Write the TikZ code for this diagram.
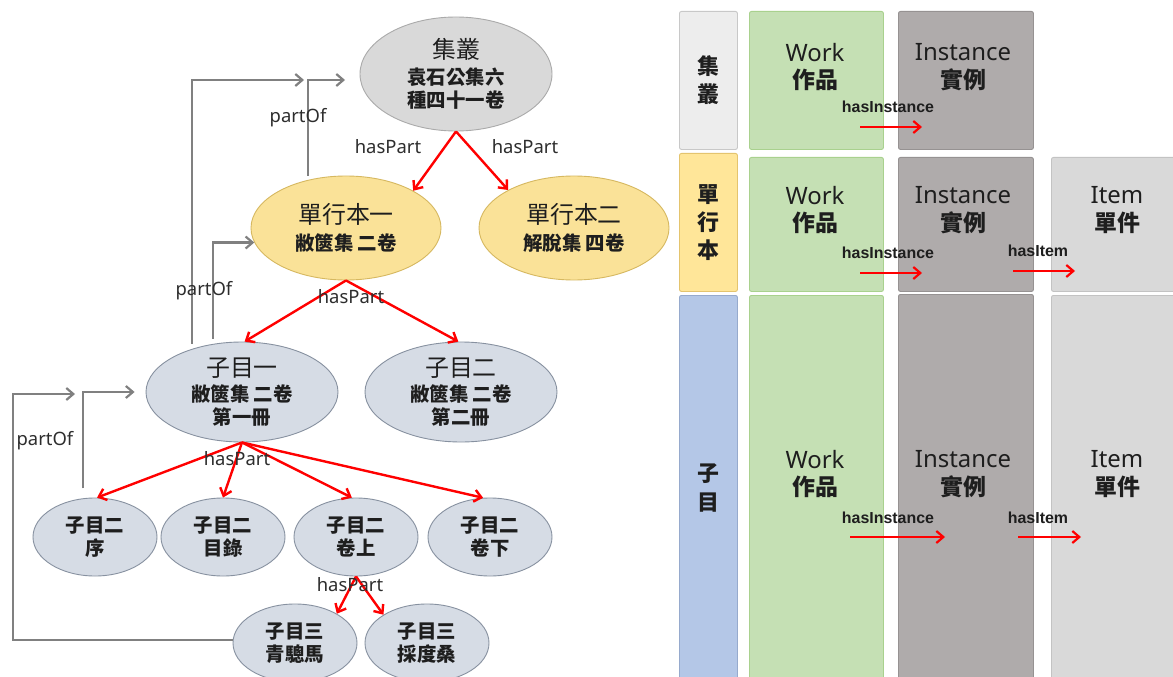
\documentclass[tikz,border=0pt]{standalone}
\usepackage{fontspec}
\setmainfont{Noto Sans CJK TC}
\newfontfamily\latinsans{Noto Sans}
\newfontfamily\latinheavy{Liberation Sans}
\usetikzlibrary{arrows.meta,shapes.geometric}

% palette
\definecolor{txt}{RGB}{30,30,30}
\definecolor{labtxt}{RGB}{45,45,45}
\definecolor{jcfill}{RGB}{217,217,217}
\definecolor{jcdraw}{RGB}{170,170,170}
\definecolor{dxfill}{RGB}{250,226,152}
\definecolor{dxdraw}{RGB}{214,184,96}
\definecolor{zmfill}{RGB}{214,220,229}
\definecolor{zmdraw}{RGB}{135,145,160}
\definecolor{linkgray}{RGB}{128,128,128}
\definecolor{hpred}{RGB}{255,0,0}
\definecolor{rowafill}{RGB}{237,237,237}
\definecolor{rowadraw}{RGB}{200,200,200}
\definecolor{rowbfill}{RGB}{255,230,153}
\definecolor{rowbdraw}{RGB}{228,196,110}
\definecolor{rowcfill}{RGB}{180,199,231}
\definecolor{rowcdraw}{RGB}{150,170,205}
\definecolor{workfill}{RGB}{197,224,180}
\definecolor{workdraw}{RGB}{169,209,142}
\definecolor{instfill}{RGB}{175,171,171}
\definecolor{instdraw}{RGB}{150,146,146}
\definecolor{itemfill}{RGB}{217,217,217}
\definecolor{itemdraw}{RGB}{195,195,195}

\newcommand\titlecjk{\mdseries\fontsize{24}{28}\selectfont}
\newcommand\subcjk{\bfseries\fontsize{19.5}{23}\selectfont}
\newcommand\relfont{\latinsans\fontsize{18.5}{20}\selectfont}
\newcommand\headlatin{\latinsans\mdseries\fontsize{24}{28}\selectfont}
\newcommand\headcjk{\bfseries\fontsize{23}{28}\selectfont}
\newcommand\propfont{\latinheavy\bfseries\fontsize{16}{18}\selectfont}

\begin{document}
\begin{tikzpicture}[x=1bp,y=-1bp,
  bub/.style={ellipse, draw, line width=0.9bp, inner sep=0pt, align=center, text=txt},
  jcnode/.style={bub, fill=jcfill, draw=jcdraw, minimum width=192bp, minimum height=114bp},
  dxnode/.style={bub, fill=dxfill, draw=dxdraw, minimum width=190bp, minimum height=104bp},
  zmbig/.style={bub, fill=zmfill, draw=zmdraw, minimum width=192bp, minimum height=100bp},
  zmsmall/.style={bub, fill=zmfill, draw=zmdraw, minimum width=124bp, minimum height=78bp, font=\subcjk},
  haspart/.style={draw=hpred, line width=2.4bp, -{Straight Barb[length=7bp,width=12bp]}},
  partof/.style={draw=linkgray, line width=2.2bp, -{Straight Barb[length=7bp,width=12bp]}},
  propline/.style={draw=hpred, line width=2.2bp, -{Straight Barb[length=7bp,width=12bp]}},
  rellabel/.style={font=\relfont, text=labtxt, inner sep=0pt},
  proplabel/.style={font=\propfont, text=txt, inner sep=0pt},
  colbox/.style={draw, line width=0.9bp, rounded corners=2bp, anchor=north west, inner sep=0pt, align=center, text=txt},
  headtext/.style={align=center, text=txt, inner sep=0pt, font=\headcjk}]

\useasboundingbox (0,0) rectangle (1173,677);
\clip (0,0) rectangle (1173,677);
\fill[white] (0,0) rectangle (1173,677);

% ---------- hierarchy of the collection ----------
\node[jcnode, font=\subcjk] (jc) at (456,74) {{\titlecjk 集叢}\\[3bp]袁石公集六\\種四十一卷};
\node[dxnode, font=\subcjk] (d1) at (346,228) {{\titlecjk 單行本一}\\[4bp]敝篋集 二卷};
\node[dxnode, font=\subcjk] (d2) at (574,228) {{\titlecjk 單行本二}\\[4bp]解脫集 四卷};
\node[zmbig, font=\subcjk] (z1) at (242,392) {{\titlecjk 子目一}\\[2bp]敝篋集 二卷\\第一冊};
\node[zmbig, font=\subcjk] (z2) at (461,392) {{\titlecjk 子目二}\\[2bp]敝篋集 二卷\\第二冊};
\node[zmsmall] (s1) at (95,537) {子目二\\序};
\node[zmsmall] (s2) at (223,537) {子目二\\目錄};
\node[zmsmall] (s3) at (356,537) {子目二\\卷上};
\node[zmsmall] (s4) at (490,537) {子目二\\卷下};
\node[zmsmall] (t1) at (295,643) {子目三\\青驄馬};
\node[zmsmall] (t2) at (427,643) {子目三\\採度桑};

% hasPart links
\draw[haspart] (jc.south) -- (d1.29);
\draw[haspart] (jc.south) -- (d2.150);
\draw[haspart] (d1.south) -- (z1.87);
\draw[haspart] (d1.south) -- (z2.93);
\draw[haspart] (z1.south) -- (s1.87);
\draw[haspart] (z1.south) -- (s2.north);
\draw[haspart] (z1.south) -- (s3.96);
\draw[haspart] (z1.south) -- (s4.100);
\draw[haspart] (s3.south) -- (t1.35);
\draw[haspart] (s3.south) -- (t2.147);

% partOf links
\coordinate (aEnd) at (304,80);
\coordinate (bEnd) at (345,80);
\coordinate (eTurn) at (13,394);
\coordinate (eEnd) at (75,394);
\draw[partof, shorten <=5bp] (z1.139) |- (aEnd);
\draw[partof, shorten <=4bp] (d1.128) |- (bEnd);
\draw[partof, shorten <=5bp] (z1.121) |- (d1.189);
\draw[partof, shorten <=10bp, shorten >=11bp] (s1.107) |- (z1.west);
\draw[partof] (t1.177) -| (eTurn) -- (eEnd);

% relation labels
\node[rellabel] (lp1) at (388,147) {hasPart};
\node[rellabel] (lp2) at (525,147) {hasPart};
\node[rellabel] (lp3) at (351,297) {hasPart};
\node[rellabel] (lp4) at (237,459) {hasPart};
\node[rellabel] (lp5) at (350,585) {hasPart};
\node[rellabel] (lo1) at (298,118) {partOf};
\node[rellabel] (lo2) at (204,291) {partOf};
\node[rellabel] (lo3) at (45,441) {partOf};

% ---------- level / entity table ----------
\node[colbox, fill=rowafill, draw=rowadraw, minimum width=58bp, minimum height=138bp, font=\bfseries\fontsize{22}{28}\selectfont] (ra) at (679,11) {集\\叢};
\node[colbox, fill=rowbfill, draw=rowbdraw, minimum width=58bp, minimum height=138bp, font=\bfseries\fontsize{22}{28}\selectfont] (rb) at (679,153) {單\\行\\本};
\node[colbox, fill=rowcfill, draw=rowcdraw, minimum width=58bp, minimum height=385bp, font=\bfseries\fontsize{22}{30}\selectfont] (rc) at (679,295) {子\\目};

\node[colbox, fill=workfill, draw=workdraw, minimum width=134bp, minimum height=138bp] (wa) at (749,11) {};
\node[colbox, fill=workfill, draw=workdraw, minimum width=134bp, minimum height=134bp] (wb) at (749,157) {};
\node[colbox, fill=workfill, draw=workdraw, minimum width=134bp, minimum height=385bp] (wc) at (749,295) {};
\node[colbox, fill=instfill, draw=instdraw, minimum width=135bp, minimum height=138bp] (ia) at (898,11) {};
\node[colbox, fill=instfill, draw=instdraw, minimum width=135bp, minimum height=134bp] (ib) at (898,157) {};
\node[colbox, fill=instfill, draw=instdraw, minimum width=135bp, minimum height=386bp] (ic) at (898,294) {};
\node[colbox, fill=itemfill, draw=itemdraw, minimum width=140bp, minimum height=134bp] (mb) at (1051,157) {};
\node[colbox, fill=itemfill, draw=itemdraw, minimum width=140bp, minimum height=385bp] (mc) at (1051,295) {};

\node[headtext] (hwa) at (815,67) {{\headlatin Work}\\{\headcjk 作品}};
\node[headtext] (hia) at (963,67) {{\headlatin Instance}\\{\headcjk 實例}};
\node[headtext] (hwb) at (815,210) {{\headlatin Work}\\{\headcjk 作品}};
\node[headtext] (hib) at (963,210) {{\headlatin Instance}\\{\headcjk 實例}};
\node[headtext] (hmb) at (1117,210) {{\headlatin Item}\\{\headcjk 單件}};
\node[headtext] (hwc) at (815,474) {{\headlatin Work}\\{\headcjk 作品}};
\node[headtext] (hic) at (963,474) {{\headlatin Instance}\\{\headcjk 實例}};
\node[headtext] (hmc) at (1117,474) {{\headlatin Item}\\{\headcjk 單件}};

% hasInstance / hasItem links
\coordinate (pa1) at (860,127); \coordinate (pa2) at (922,127);
\coordinate (pb1) at (860,273); \coordinate (pb2) at (922,273);
\coordinate (pb3) at (1013,271); \coordinate (pb4) at (1075,271);
\coordinate (pc1) at (850,537); \coordinate (pc2) at (945,537);
\coordinate (pc3) at (1018,537); \coordinate (pc4) at (1081,537);
\draw[propline] (pa1) -- (pa2);
\draw[propline] (pb1) -- (pb2);
\draw[propline] (pb3) -- (pb4);
\draw[propline] (pc1) -- (pc2);
\draw[propline] (pc3) -- (pc4);
\node[proplabel] (la) at (888,107) {hasInstance};
\node[proplabel] (lb) at (888,253) {hasInstance};
\node[proplabel] (lbi) at (1038,251) {hasItem};
\node[proplabel] (lc) at (888,518) {hasInstance};
\node[proplabel] (lci) at (1038,518) {hasItem};
\end{tikzpicture}
\end{document}
